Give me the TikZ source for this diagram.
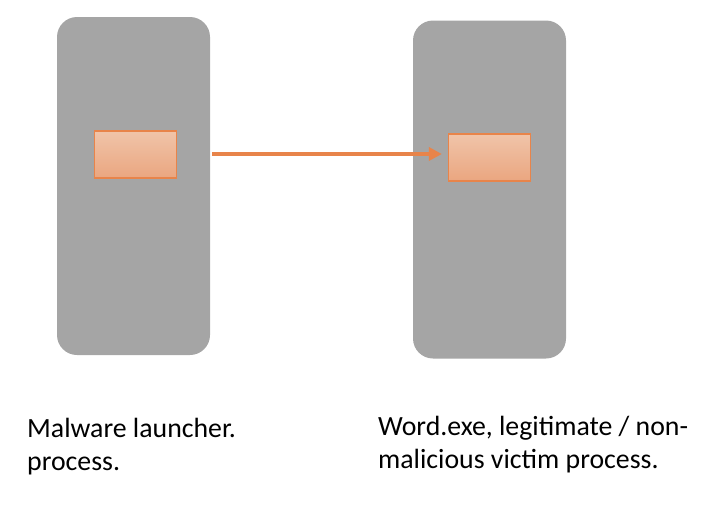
\documentclass[tikz,border=0pt]{standalone}
\usepackage{fontspec}
\setmainfont{Carlito}
\usetikzlibrary{arrows.meta}
\definecolor{boxgray}{HTML}{A5A5A5}
\definecolor{orangeline}{HTML}{E8844A}
\definecolor{orangetop}{HTML}{F0C4A9}
\definecolor{orangebot}{HTML}{EAA680}
\begin{document}
\begin{tikzpicture}[x=1pt,y=-1pt,
  proc/.style={fill=boxgray, draw=none, rounded corners=20pt, minimum width=153pt, minimum height=338pt, inner sep=0pt},
  region/.style={top color=orangetop, bottom color=orangebot, draw=orangeline, line width=1.2pt, minimum width=82pt, minimum height=47pt, inner sep=0pt},
  label/.style={anchor=base west, align=left, inner sep=0pt, font=\fontsize{27.8}{33}\selectfont},
  inject/.style={draw=orangeline, line width=3.3pt, -{Triangle[length=13pt,width=13pt]}}
]
\useasboundingbox (0,0) rectangle (718,522);
\node[proc] (lb) at (133.5,186) {};
\node[proc] (rb) at (489.5,189.5) {};
\node[region] (ls) at (135.5,154.5) {};
\node[region] (rs) at (489.5,157.5) {};
\draw[inject, shorten <=2pt, shorten >=6pt] (lb.east |- 0,154) -- (rs.west |- 0,154);
\node[label] (t1) at (27,470) {Malware launcher.\\process.};
\node[label] (t2) at (378,468) {Word.exe, legitimate / non-\\malicious victim process.};
\end{tikzpicture}
\end{document}
